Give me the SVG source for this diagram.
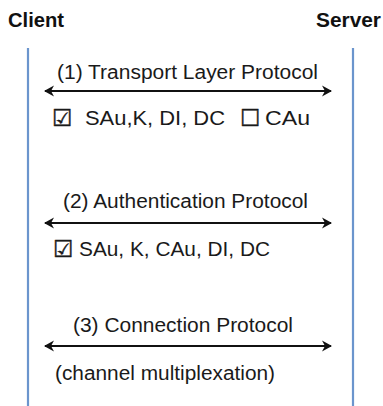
<svg xmlns="http://www.w3.org/2000/svg" width="383" height="406" viewBox="0 0 383 406">
<style>
.t{font-family:"Liberation Sans",Arial,sans-serif;font-size:20px;fill:#1a1a1a}
.h{font-family:"Liberation Sans",Arial,sans-serif;font-size:20px;font-weight:bold;fill:#111}
.life{stroke:#6b95cd;stroke-width:2.2;fill:none}
.msg{stroke:#111;stroke-width:2.2;fill:none;marker-start:url(#a);marker-end:url(#a)}
.cb{font-family:"DejaVu Sans",sans-serif;font-size:23px;fill:#1a1a1a;stroke:#1a1a1a;stroke-width:0.4}
</style>
<defs>
<marker id="a" viewBox="0 0 10 12" refX="9" refY="6" markerWidth="10" markerHeight="12" markerUnits="userSpaceOnUse" orient="auto-start-reverse">
<path d="M0,0.5 L10,6 L0,11.5 L3,6 Z" fill="#111"/>
</marker>
</defs>
<rect width="383" height="406" fill="#fff"/>
<g id="client"><text class="h" x="8" y="27" textLength="56" lengthAdjust="spacingAndGlyphs">Client</text><line class="life" x1="28" y1="48" x2="28" y2="406"/></g>
<g id="server"><text class="h" x="316" y="27" textLength="65" lengthAdjust="spacingAndGlyphs">Server</text><line class="life" x1="353" y1="48" x2="353" y2="406"/></g>
<g id="connectors">
<line class="msg" x1="45" y1="91" x2="331" y2="91"/>
<line class="msg" x1="45" y1="223" x2="331" y2="223"/>
<line class="msg" x1="45" y1="346" x2="331" y2="346"/>
</g>
<g id="labels">
<text class="t" x="57" y="79" textLength="261" lengthAdjust="spacingAndGlyphs">(1) Transport Layer Protocol</text>
<text class="cb" x="52" y="126">☑</text>
<text class="t" x="85" y="125" textLength="140" lengthAdjust="spacingAndGlyphs">SAu,K, DI, DC</text>
<text class="cb" x="240" y="126">☐</text>
<text class="t" x="265" y="125" textLength="45" lengthAdjust="spacingAndGlyphs">CAu</text>
<text class="t" x="63" y="208" textLength="245" lengthAdjust="spacingAndGlyphs">(2) Authentication Protocol</text>
<text class="cb" x="53" y="257">☑</text>
<text class="t" x="79" y="256" textLength="191" lengthAdjust="spacingAndGlyphs">SAu, K, CAu, DI, DC</text>
<text class="t" x="73" y="332" textLength="220" lengthAdjust="spacingAndGlyphs">(3) Connection Protocol</text>
<text class="t" x="55" y="380" textLength="220" lengthAdjust="spacingAndGlyphs">(channel multiplexation)</text>
</g>
</svg>
